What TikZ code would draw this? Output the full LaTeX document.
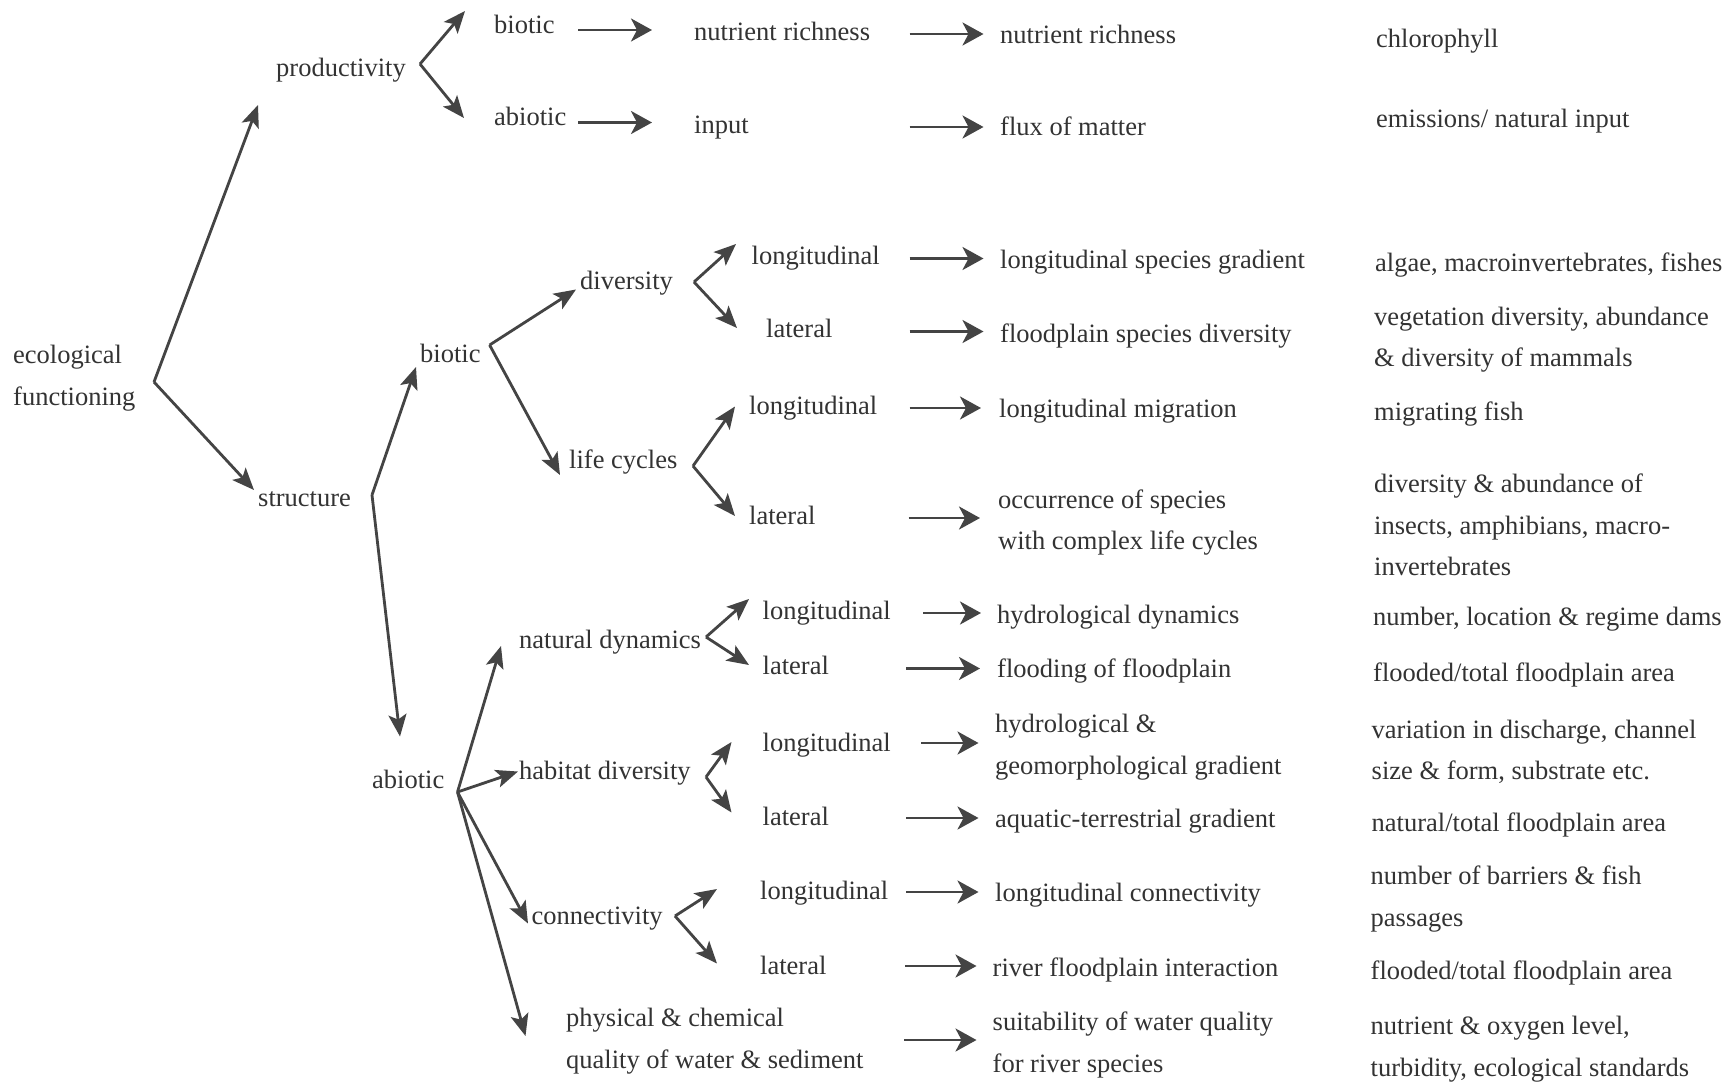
\documentclass[tikz,border=0pt]{standalone}
\usepackage{fontspec}
\newfontfamily\tnr{LiberationSerif-Regular.ttf}
\usetikzlibrary{arrows.meta}
\definecolor{ink}{HTML}{333333}
\definecolor{lineg}{HTML}{444444}
\begin{document}
\begin{tikzpicture}[x=1pt,y=-1pt,
  lbl/.style={anchor=west, inner sep=0pt, text=ink, font=\tnr\fontsize{26.5}{41.5}\selectfont, text height=18pt, text depth=6pt},
  mlbl/.style={anchor=west, inner sep=0pt, text=ink, font=\tnr\fontsize{26.5}{41.5}\selectfont, align=left},
  arr/.style={draw=lineg, line width=2.8pt, -{Stealth[length=22pt,width=18pt,inset=5pt]}},
  harr/.style={draw=lineg, line width=2.8pt, -{Stealth[length=21pt,width=23pt,inset=6pt]}},
]
\fill[white] (0,0) rectangle (1733,1085);
\useasboundingbox (0,0) rectangle (1733,1085);

% ---------- nodes ----------
\node[mlbl] (eco) at (13,378) {ecological\\functioning};
\node[lbl] (prod) at (276,70) {productivity};
\node[lbl] (bioA) at (494,27) {biotic};
\node[lbl] (abioA) at (494,119) {abiotic};
\node[lbl] (nr1) at (694,34) {nutrient richness};
\node[lbl] (inp) at (694,127) {input};
\node[lbl] (nr2) at (1000,37.5) {nutrient richness};
\node[lbl] (flux) at (1000,129) {flux of matter};
\node[lbl] (chl) at (1376,41) {chlorophyll};
\node[lbl] (emi) at (1376,121.5) {emissions/ natural input};

\node[lbl] (str) at (258,500.5) {structure};
\node[lbl] (bioB) at (420,356) {biotic};
\node[lbl] (div) at (580,283) {diversity};
\node[lbl] (life) at (569,462) {life cycles};
\node[lbl] (dlon) at (751.5,258.5) {longitudinal};
\node[lbl] (dlat) at (766,331.5) {lateral};
\node[lbl] (llon) at (749,408) {longitudinal};
\node[lbl] (llat) at (749,518) {lateral};
\node[lbl] (lsg) at (1000,262) {longitudinal species gradient};
\node[lbl] (fsd) at (1000,336) {floodplain species diversity};
\node[lbl] (lm) at (999,411) {longitudinal migration};
\node[mlbl] (occ) at (998,522.5) {occurrence of species\\with complex life cycles};
\node[lbl] (alg) at (1375,265) {algae, macroinvertebrates, fishes};
\node[mlbl] (veg) at (1374,339.5) {vegetation diversity, abundance\\\& diversity of mammals};
\node[lbl] (mig) at (1374,414) {migrating fish};
\node[mlbl] (dab) at (1374,525) {diversity \& abundance of\\insects, amphibians, macro-\\invertebrates};

\node[lbl] (abioB) at (372,782) {abiotic};
\node[lbl] (nd) at (519,642) {natural dynamics};
\node[lbl] (hd) at (519,773.5) {habitat diversity};
\node[lbl] (con) at (531.5,918) {connectivity};
\node[mlbl] (phy) at (566,1041) {physical \& chemical\\quality of water \& sediment};
\node[lbl] (nlon) at (762.5,613) {longitudinal};
\node[lbl] (nlat) at (762.5,668.5) {lateral};
\node[lbl] (hlon) at (762.5,745) {longitudinal};
\node[lbl] (hlat) at (762.5,819) {lateral};
\node[lbl] (clon) at (760,893) {longitudinal};
\node[lbl] (clat) at (760,968) {lateral};
\node[lbl] (hyd) at (997,617) {hydrological dynamics};
\node[lbl] (flo) at (997,671) {flooding of floodplain};
\node[mlbl] (hg) at (995,747) {hydrological \&\\geomorphological gradient};
\node[lbl] (aq) at (995,821) {aquatic-terrestrial gradient};
\node[lbl] (lc) at (995,895) {longitudinal connectivity};
\node[lbl] (rfi) at (992.5,970) {river floodplain interaction};
\node[mlbl] (suit) at (992.5,1045) {suitability of water quality\\for river species};
\node[lbl] (rnum) at (1373,619) {number, location \& regime dams};
\node[lbl] (rfl1) at (1373,675) {flooded/total floodplain area};
\node[mlbl] (rvar) at (1371.5,752) {variation in discharge, channel\\size \& form, substrate etc.};
\node[lbl] (rnat) at (1371.5,825.5) {natural/total floodplain area};
\node[mlbl] (rbar) at (1370.5,899) {number of barriers \& fish\\passages};
\node[lbl] (rfl2) at (1370.5,973.5) {flooded/total floodplain area};
\node[mlbl] (rnut) at (1370.5,1049) {nutrient \& oxygen level,\\turbidity, ecological standards};

% ---------- branching points and arrow ends ----------
\coordinate (eV) at (154,382);   \coordinate (eT1) at (258,105);   \coordinate (eT2) at (254,490);
\coordinate (pV) at (420,64);    \coordinate (pT1) at (465,11);    \coordinate (pT2) at (464,118);
\coordinate (sV) at (372,495);   \coordinate (sT1) at (416,367);   \coordinate (sT2) at (400,736.5);
\coordinate (bV) at (489.6,345); \coordinate (bT1) at (576,289.5); \coordinate (bT2) at (560,475);
\coordinate (dV) at (694,282);   \coordinate (dT1) at (736,244);   \coordinate (dT2) at (737,328);
\coordinate (lV) at (693,466);   \coordinate (lT1) at (735,406.5); \coordinate (lT2) at (735,516);
\coordinate (aV) at (457.5,792); \coordinate (aT1) at (501,646);   \coordinate (aT2) at (518,771.5);
\coordinate (aT3) at (528,923.5); \coordinate (aT4) at (525.5,1036);
\coordinate (nV) at (706,637);   \coordinate (nT1) at (749,599);   \coordinate (nT2) at (749,665);
\coordinate (hV) at (706,777);   \coordinate (hT1) at (731.5,742); \coordinate (hT2) at (731.5,812.5);
\coordinate (cV) at (675,916);   \coordinate (cT1) at (717,889);   \coordinate (cT2) at (717,963.5);

% ---------- tree arrows ----------
\draw[arr] (eV) -- (eT1);  \draw[arr] (eV) -- (eT2);
\draw[arr] (pV) -- (pT1);  \draw[arr] (pV) -- (pT2);
\draw[arr] (sV) -- (sT1);  \draw[arr] (sV) -- (sT2);
\draw[arr] (bV) -- (bT1);  \draw[arr] (bV) -- (bT2);
\draw[arr] (dV) -- (dT1);  \draw[arr] (dV) -- (dT2);
\draw[arr] (lV) -- (lT1);  \draw[arr] (lV) -- (lT2);
\draw[arr] (aV) -- (aT1);  \draw[arr] (aV) -- (aT2);
\draw[arr] (aV) -- (aT3);  \draw[arr] (aV) -- (aT4);
\draw[arr] (nV) -- (nT1);  \draw[arr] (nV) -- (nT2);
\draw[arr] (hV) -- (hT1);  \draw[arr] (hV) -- (hT2);
\draw[arr] (cV) -- (cT1);  \draw[arr] (cV) -- (cT2);

% ---------- horizontal arrows ----------
\draw[harr] (578,30) -- (652,30);
\draw[harr] (578,122.5) -- (652,122.5);
\draw[harr] (909.5,34) -- (983.5,34);
\draw[harr] (909.5,127) -- (983.5,127);
\draw[harr] (909.5,258.5) -- (983.5,258.5);
\draw[harr] (909.5,331.5) -- (983.5,331.5);
\draw[harr] (909.5,408) -- (981,408);
\draw[harr] (908.5,518) -- (980,518);
\draw[harr] (923,613) -- (981,613);
\draw[harr] (906,668.5) -- (980,668.5);
\draw[harr] (921,743) -- (978.5,743);
\draw[harr] (906,818) -- (978.5,818);
\draw[harr] (906,892) -- (978.5,892);
\draw[harr] (905,966) -- (976.5,966);
\draw[harr] (904,1040) -- (976.5,1040);
\end{tikzpicture}
\end{document}
